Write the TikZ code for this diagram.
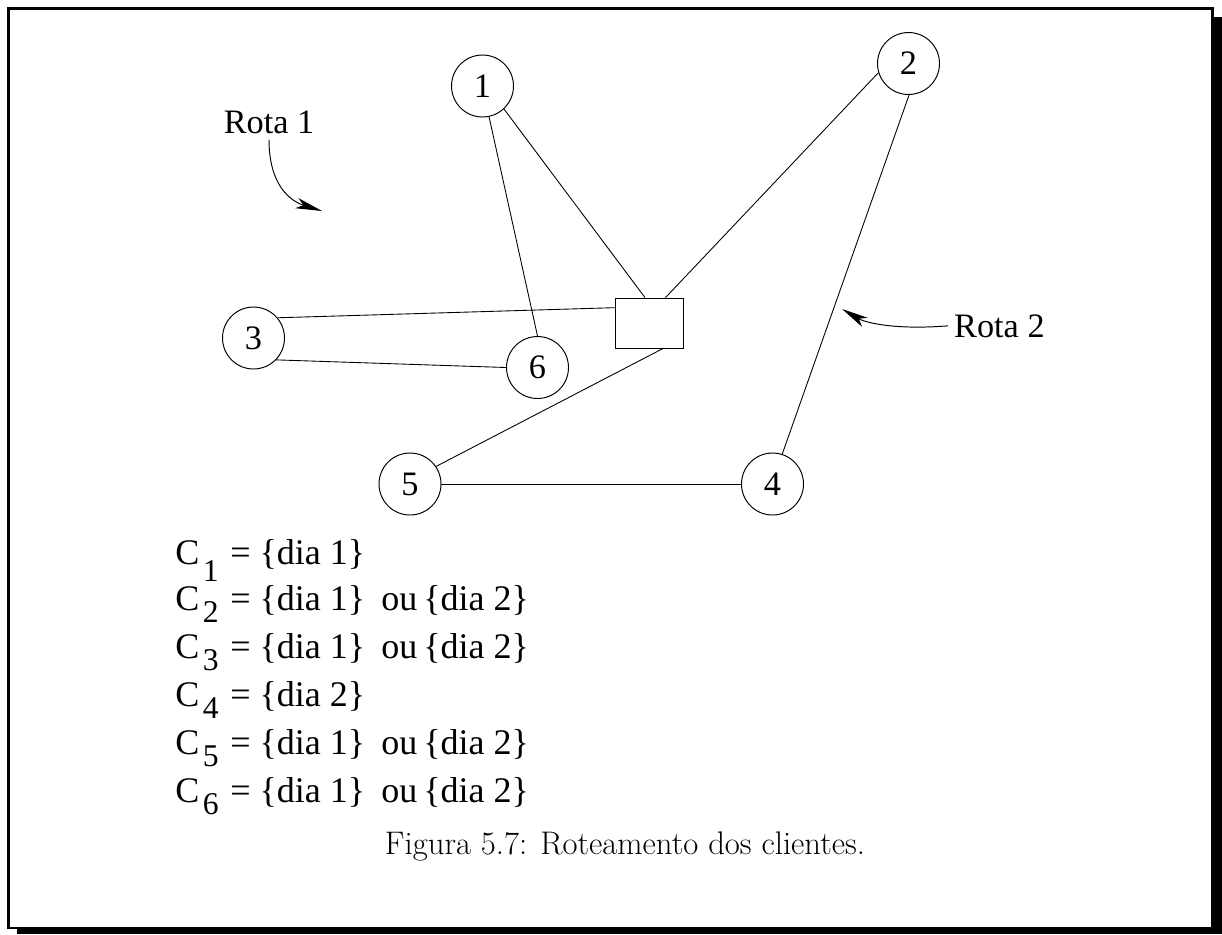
\documentclass[tikz,border=0pt]{standalone}
\usepackage{fontspec}
\newfontfamily\rotafont{Liberation Serif}
\usepackage{tikz}
\usetikzlibrary{arrows.meta,positioning}
\newcommand{\indice}[2]{\raisebox{#2}{\fontsize{18}{18}\selectfont #1}}
\tikzstyle{cliente} = [circle, draw, line width=0.55pt, minimum size=1.24cm, inner sep=0pt,
text centered, font=\rotafont\fontsize{19.5}{20}\selectfont]
\tikzstyle{deposito} = [rectangle, draw, line width=0.5pt, minimum width=1.36cm, minimum height=1cm, inner sep=0pt]
\tikzstyle{rotulo} = [font=\rotafont\fontsize{19.5}{22}\selectfont]
\tikzstyle{lista} = [font=\rotafont\fontsize{20.5}{22}\selectfont, inner sep=0pt, anchor=base west]
\tikzstyle{legenda} = [font=\fontsize{18.6}{22}\selectfont]
\tikzstyle{ligacao} = [draw, line width=0.5pt]
\tikzstyle{rota} = [draw, line width=0.55pt, -{Stealth[length=15pt, width=6pt, inset=4pt]}]
\begin{document}
\begin{tikzpicture}[x=0.02cm, y=-0.02cm]
\useasboundingbox (0,0) rectangle (1222,934);

% moldura com sombra
\draw[line width=1.4pt] (8.5,8.5) rectangle (1212.5,928);
\fill (1212,17) rectangle (1222,934);
\fill (17,928) rectangle (1222,934);

% clientes e deposito =============================
\node[cliente] (n1) at (482.5,86) {1};
\node[cliente] (n2) at (908.5,63.5) {2};
\node[cliente] (n3) at (253.5,338) {3};
\node[cliente] (n6) at (537.5,367.5) {6};
\node[cliente] (n5) at (410,484) {5};
\node[cliente] (n4) at (772.5,484) {4};
\node[deposito] (dep) at (649,323) {};

% rotas
\draw[ligacao] (n1.-78) -- (n6.90);
\draw[ligacao] (n1.-47) -- (dep.99);
\draw[ligacao] (n2.-163) -- (dep.57);
\draw[ligacao] (n2.-89) -- (n4.72);
\draw[ligacao] (n3.40) -- (dep.156);
\draw[ligacao] (n3.-44) -- (n6.180);
\draw[ligacao] (dep.-61) -- (n5.34);
\draw[ligacao] (n5.0) -- (n4.180);

% rotulos das rotas
\node[rotulo, anchor=base] (r1) at (269,133) {Rota 1};
\coordinate (a1) at (322,211);
\draw[rota] (r1.south) .. controls (269,185) and (290,201) .. (a1);

\node[rotulo, anchor=base west] (r2) at (948,337) {Rota 2};
\coordinate (a2) at (842,309);
\draw[rota] (r2.west) .. controls (896,330) and (866,323) .. (a2);

% dias de visita
\node[lista] (c1) at (175,564) {C\hspace{2pt}\indice{1}{-10pt}\hspace{1.5pt} = \{dia 1\}};
\node[lista] (c2) at (175,610) {C\hspace{2pt}\indice{2}{-7pt}\hspace{1.5pt} = \{dia 1\}\hspace{4pt} ou\,\{dia 2\}};
\node[lista] (c3) at (175,658) {C\hspace{2pt}\indice{3}{-7pt}\hspace{1.5pt} = \{dia 1\}\hspace{4pt} ou\,\{dia 2\}};
\node[lista] (c4) at (175,706) {C\hspace{2pt}\indice{4}{-7pt}\hspace{1.5pt} = \{dia 2\}};
\node[lista] (c5) at (175,754) {C\hspace{2pt}\indice{5}{-7pt}\hspace{1.5pt} = \{dia 1\}\hspace{4pt} ou\,\{dia 2\}};
\node[lista] (c6) at (175,802) {C\hspace{2pt}\indice{6}{-7pt}\hspace{1.5pt} = \{dia 1\}\hspace{4pt} ou\,\{dia 2\}};

\node[legenda] (cap) at (625,846) {Figura 5.7: Roteamento dos clientes.};
\end{tikzpicture}
\end{document}
